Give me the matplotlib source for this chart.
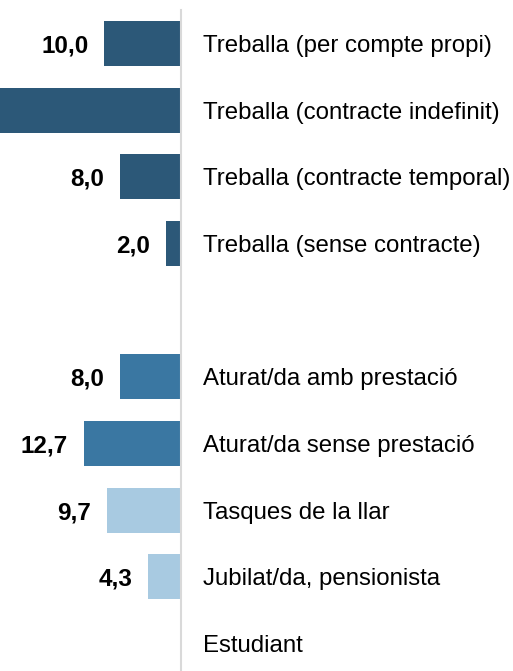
import matplotlib
matplotlib.use("Agg")
import matplotlib.pyplot as plt
import numpy as np

plt.rcParams['font.family'] = ['Liberation Sans', 'DejaVu Sans']

# dades (percentatges); la fila buida separa els dos grups
categories = [
    "Treballa (per compte propi)",
    "Treballa (contracte indefinit)",
    "Treballa (contracte temporal)",
    "Treballa (sense contracte)",
    "",
    "Aturat/da amb prestació",
    "Aturat/da sense prestació",
    "Tasques de la llar",
    "Jubilat/da, pensionista",
    "Estudiant",
]
values = [10.0, 45.3, 8.0, 2.0, np.nan, 8.0, 12.7, 9.7, 4.3, 0.0]
groups = ["treball", "treball", "treball", "treball", None,
          "atur", "atur", "altres", "altres", "altres"]

group_colors = {"treball": "#2c5878", "atur": "#3a77a2", "altres": "#a8cae1", None: "white"}

W, H = 513, 671
fig = plt.figure(figsize=(W / 100, H / 100), dpi=100)
axis_x = 181
top_px = 10
ax = fig.add_axes([0, 0, axis_x / W, (H - top_px) / H])

y = np.arange(len(categories))
colors = [group_colors[g] for g in groups]
ax.barh(y, np.nan_to_num(values), height=0.675, color=colors)

slot = 66.67
first_center = 43.5
ax.set_ylim((H - first_center) / slot, (top_px - first_center) / slot)
xmax = axis_x / 7.65
ax.set_xlim(xmax, 0)

# etiquetes de valor (la de la barra que surt del gràfic queda fora)
for yi, v in zip(y, values):
    if np.isnan(v) or v == 0 or v > xmax:
        continue
    ax.annotate(f"{v:.1f}".replace(".", ","), (v, yi), xytext=(-16, 0),
                textcoords="offset pixels", ha="right", va="center_baseline",
                fontsize=17.5, fontweight="bold", color="black",
                annotation_clip=False)

ax.yaxis.tick_right()
ax.set_yticks(y)
ax.set_yticklabels(categories, fontsize=17.3, color="black")
ax.tick_params(axis="y", length=0, pad=16)
ax.set_xticks([])

for side in ["top", "left", "bottom"]:
    ax.spines[side].set_visible(False)
ax.spines["right"].set_color("#d9d9d9")
ax.spines["right"].set_linewidth(1.5)

fig.savefig("out.png", dpi=100)
